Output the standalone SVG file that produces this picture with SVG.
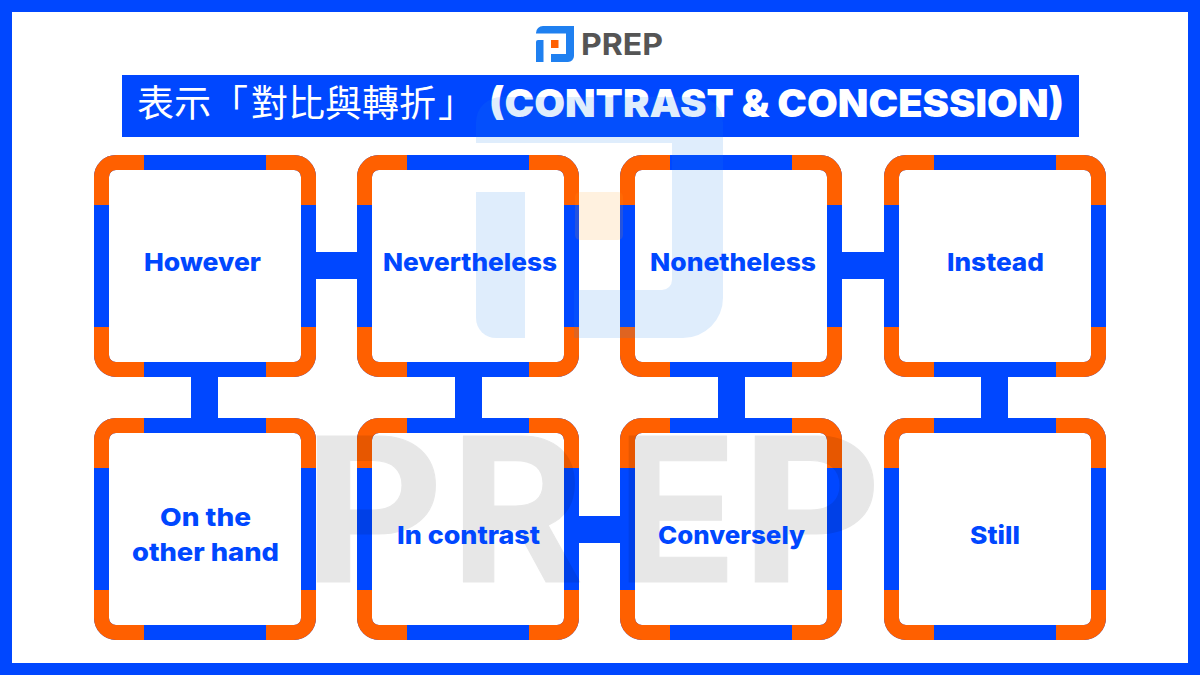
<svg xmlns="http://www.w3.org/2000/svg" xmlns:xlink="http://www.w3.org/1999/xlink" width="1200" height="675" viewBox="0 0 1200 675">
<style>
.bl{fill:#0047ff}
.lbl{font-family:"Inter","Liberation Sans",sans-serif;font-weight:800;font-size:25px;fill:#0047ff}
.ring{fill:none;stroke:#0047ff;stroke-width:15}
.cor{fill:none;stroke:#ff6000;stroke-width:15}
.wm{font-family:"Inter","Liberation Sans",sans-serif;font-weight:700;font-size:200px;fill:#000;stroke:#000;stroke-width:1;stroke-linejoin:round}
</style>
<defs>
<g id="frame">
<rect class="ring" x="7.5" y="7.5" width="207" height="207" rx="14.5"/>
<path class="cor" d="M7.5 50V22A14.500 14.500 0 0 1 22 7.500H50"/>
<path class="cor" d="M172 7.500H200A14.500 14.500 0 0 1 214.500 22V50"/>
<path class="cor" d="M214.500 172V200A14.500 14.500 0 0 1 200 214.500H172"/>
<path class="cor" d="M50 214.500H22A14.500 14.500 0 0 1 7.500 200V172"/>
</g>
</defs>
<rect width="1200" height="675" fill="#0047ff"/>
<rect x="12" y="12" width="1176" height="651" fill="#fff"/>
<g id="logo">
<path fill="#1f80f0" d="M536 33a7 7 0 0 1 7-7H574V56a6 6 0 0 1-6 6H551V54H566V33.500H536Z"/>
<path fill="#1f80f0" d="M536 42a2 2 0 0 1 2-2H543.500V62H536Z"/>
<rect x="551" y="40" width="7.500" height="8" fill="#ff6000"/>
<text x="581" y="54.500" font-family="Inter,'Liberation Sans',sans-serif" font-weight="700" font-size="29.500" fill="#555" textLength="82" lengthAdjust="spacingAndGlyphs">PREP</text>
</g>
<g id="title">
<rect x="122" y="75" width="957" height="62" class="bl"/>
<text x="137" y="117" font-family="'Noto Sans CJK TC','Noto Sans CJK SC',sans-serif" font-size="37" fill="#fff">表示「</text>
<text x="251" y="117" font-family="'Noto Sans CJK TC','Noto Sans CJK SC',sans-serif" font-size="37" fill="#fff">對比與轉折</text>
<text x="438" y="117" font-family="'Noto Sans CJK TC','Noto Sans CJK SC',sans-serif" font-size="37" fill="#fff">」</text>
<text x="489" y="117" font-family="Inter,'Liberation Sans',sans-serif" font-weight="900" font-size="38.500" fill="#fff" textLength="575" lengthAdjust="spacingAndGlyphs">(CONTRAST &amp; CONCESSION)</text>
</g>
<g id="connectors" class="bl">
<rect x="314" y="252" width="45" height="27"/>
<rect x="841" y="252" width="45" height="27"/>
<rect x="577" y="516" width="45" height="27"/>
<rect x="191" y="363" width="27" height="57"/>
<rect x="455" y="363" width="27" height="57"/>
<rect x="718" y="363" width="27" height="57"/>
<rect x="981" y="363" width="27" height="57"/>
</g>
<g id="frames">
<use href="#frame" x="94" y="155"/>
<use href="#frame" x="357" y="155"/>
<use href="#frame" x="620" y="155"/>
<use href="#frame" x="884" y="155"/>
<use href="#frame" x="94" y="418"/>
<use href="#frame" x="357" y="418"/>
<use href="#frame" x="620" y="418"/>
<use href="#frame" x="884" y="418"/>
</g>
<g id="watermark">
<path fill="#1f7fe8" fill-opacity=".14" d="M476 122a25 25 0 0 1 25-25H698a25 25 0 0 1 25 25V298a40 40 0 0 1-40 40H574V290H662a10 10 0 0 0 10-10V143H476Z"/>
<path fill="#1f7fe8" fill-opacity=".14" d="M476 192H525V338H496a20 20 0 0 1-20-20Z"/>
<rect x="575" y="192" width="48" height="48" rx="5" fill="#ff9f1c" fill-opacity=".14"/>
<g opacity=".09">
<text class="wm" transform="translate(303 581.500) scale(1.086 1)">P</text>
<text class="wm" transform="translate(450 581.500) scale(1.02 1)">R</text>
<text class="wm" transform="translate(616 581.500)">E</text>
<text class="wm" transform="translate(741 581.500) scale(1.086 1)">P</text>
</g>
</g>
<g id="node-however"><text class="lbl" x="144" y="271" textLength="117" lengthAdjust="spacingAndGlyphs">However</text></g>
<g id="node-nevertheless"><text class="lbl" x="383" y="271" textLength="174" lengthAdjust="spacingAndGlyphs">Nevertheless</text></g>
<g id="node-nonetheless"><text class="lbl" x="650" y="271" textLength="166" lengthAdjust="spacingAndGlyphs">Nonetheless</text></g>
<g id="node-instead"><text class="lbl" x="947" y="271" textLength="97" lengthAdjust="spacingAndGlyphs">Instead</text></g>
<g id="node-other-hand"><text class="lbl" x="160" y="526" textLength="91" lengthAdjust="spacingAndGlyphs">On the</text><text class="lbl" x="132" y="561" textLength="147" lengthAdjust="spacingAndGlyphs">other hand</text></g>
<g id="node-in-contrast"><text class="lbl" x="397" y="544" textLength="143" lengthAdjust="spacingAndGlyphs">In contrast</text></g>
<g id="node-conversely"><text class="lbl" x="658" y="544" textLength="147" lengthAdjust="spacingAndGlyphs">Conversely</text></g>
<g id="node-still"><text class="lbl" x="970" y="544" textLength="50" lengthAdjust="spacingAndGlyphs">Still</text></g>
</svg>
